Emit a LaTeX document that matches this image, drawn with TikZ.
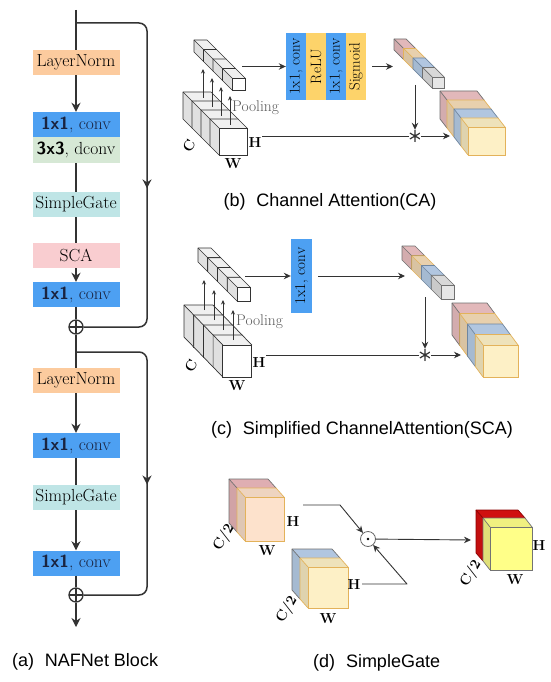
\documentclass[tikz,border=0pt]{standalone}
\usepackage{fontspec}
\newfontfamily\capfont{Liberation Sans}
\usetikzlibrary{arrows.meta,decorations.markings}
\definecolor{lnorange}{HTML}{FCCB9E}
\definecolor{convblue}{HTML}{4DA0F2}
\definecolor{dconvgreen}{HTML}{D6E8D5}
\definecolor{sgcyan}{HTML}{BFE5E6}
\definecolor{scapink}{HTML}{F9CDD0}
\definecolor{stripyellow}{HTML}{FDD36A}
\definecolor{linegray}{HTML}{333333}
\definecolor{navytxt}{HTML}{1A2440}
\definecolor{cpink}{HTML}{F0C4C6}
\definecolor{dpink}{HTML}{EDB9BD}
\definecolor{cbeige}{HTML}{F7DDB8}
\definecolor{cblue}{HTML}{BCD3EE}
\definecolor{cgray}{HTML}{E6E6E6}
\definecolor{ccream}{HTML}{FDF0C6}
\definecolor{cpeach}{HTML}{FDE2CC}
\definecolor{cred}{HTML}{DD1111}
\definecolor{cyellow}{HTML}{FFFF88}
\definecolor{edgeorange}{HTML}{E3B25A}
\definecolor{edgegray}{HTML}{707070}
\definecolor{edgeblue}{HTML}{6F86A0}
\newcommand\convtxt{\textcolor{navytxt}{\textsf{\bfseries 1x1}, conv}}
% x y w h dx dy fill edge
\newcommand\mycube[8]{%
  \fill[#7!88!black] (#1,#2) -- (#1-#5,#2-#6) -- (#1-#5,#2+#4-#6) -- (#1,#2+#4) -- cycle;
  \fill[#7!94!black] (#1,#2) -- (#1+#3,#2) -- (#1+#3-#5,#2-#6) -- (#1-#5,#2-#6) -- cycle;
  \fill[#7] (#1,#2) rectangle (#1+#3,#2+#4);
  \draw[#8, line width=0.7pt, line join=round] (#1,#2+#4) -- (#1-#5,#2+#4-#6) -- (#1-#5,#2-#6) -- (#1+#3-#5,#2-#6) -- (#1+#3,#2);
  \draw[#8, line width=0.7pt] (#1,#2) rectangle (#1+#3,#2+#4);
  \draw[#8, line width=0.7pt] (#1,#2) -- (#1-#5,#2-#6);
}
\tikzset{
  blk/.style={minimum width=87pt, minimum height=25pt, inner sep=0pt, font=\fontsize{17.5}{17.5}\selectfont},
  flow/.style={draw=linegray, line width=1.5pt},
  flowarr/.style={flow, -{Stealth[length=9pt,width=9pt]}},
  skiparrow/.style={postaction={decorate}, decoration={markings, mark=at position 0.54 with {\arrow[linegray]{Stealth[length=9pt,width=9pt]}}}},
  fine/.style={draw=linegray, line width=0.9pt},
  finearr/.style={fine, -{Stealth[length=7pt,width=6.5pt]}},
  poolarr/.style={fine, line width=0.8pt, -{Stealth[length=4.5pt,width=4pt]}},
  lab/.style={font=\fontsize{14.5}{14.5}\selectfont\bfseries, inner sep=0pt},
  strip/.style={rotate=90, minimum width=67pt, minimum height=20pt, inner sep=0pt, font=\fontsize{15}{15}\selectfont},
  pooltxt/.style={anchor=west, inner sep=0pt, text=black!65, font=\fontsize{15.5}{15.5}\selectfont},
  captxt/.style={inner sep=0pt, font=\capfont\fontsize{18}{18}\selectfont},
  oplus/.style={circle, draw=linegray, line width=1.3pt, minimum size=14pt, inner sep=0pt,
    path picture={\draw[linegray, line width=1.3pt] (path picture bounding box.north) -- (path picture bounding box.south) (path picture bounding box.west) -- (path picture bounding box.east);}},
  astr/.style={circle, minimum size=12pt, inner sep=0pt,
    path picture={\draw[linegray, line width=1.2pt]
      (path picture bounding box.center) ++(90:6pt) -- ++(270:12pt)
      (path picture bounding box.center) ++(30:6pt) -- ++(210:12pt)
      (path picture bounding box.center) ++(150:6pt) -- ++(330:12pt);}}
}
\begin{document}
\begin{tikzpicture}[x=1pt,y=-1pt]
\useasboundingbox[fill=white] (0,0) rectangle (550,682);

% ================= (a) NAFNet block =================
\node[blk, fill=lnorange] (ln1) at (76,62.5) {LayerNorm};
\node[blk, fill=convblue] (c1a) at (76,124.5) {\convtxt};
\node[blk, fill=dconvgreen, minimum height=26pt] (dc) at (76,150) {\textsf{\bfseries 3x3}, dconv};
\node[blk, fill=sgcyan] (sg1) at (76,204.5) {SimpleGate};
\node[blk, fill=scapink] (sca) at (76,255.5) {SCA};
\node[blk, fill=convblue] (c1b) at (76,294.5) {\convtxt};
\node[oplus] (p1) at (76,327) {};
\node[blk, fill=lnorange] (ln2) at (76,380.5) {LayerNorm};
\node[blk, fill=convblue] (c2a) at (76,445.5) {\convtxt};
\node[blk, fill=sgcyan] (sg2) at (76,497.5) {SimpleGate};
\node[blk, fill=convblue] (c2b) at (76,563) {\convtxt};
\node[oplus] (p2) at (76,595) {};
\coordinate (top) at (76,10);
\coordinate (br1) at (76,23);
\coordinate (sk1a) at (147,23);
\coordinate (sk1b) at (147,327);
\coordinate (br2) at (76,352);
\coordinate (sk2a) at (147,352);
\coordinate (sk2b) at (147,595);
\coordinate (bot) at (76,627);

\draw[flow] (top) -- (ln1);
\draw[flowarr] (ln1) -- (c1a);
\draw[flow] (dc) -- (sg1);
\draw[flow] (sg1) -- (sca);
\draw[flowarr] (sca) -- (c1b);
\draw[flow] (c1b) -- (p1);
\draw[flow, rounded corners=8pt, skiparrow] (br1) -- (sk1a) -- (sk1b) -- (p1);
\draw[flow] (p1) -- (ln2);
\draw[flowarr] (ln2) -- (c2a);
\draw[flow] (c2a) -- (sg2);
\draw[flowarr] (sg2) -- (c2b);
\draw[flow] (c2b) -- (p2);
\draw[flowarr] (p2) -- (bot);
\draw[flow, rounded corners=8pt, skiparrow] (br2) -- (sk2a) -- (sk2b) -- (p2);

\node[captxt, anchor=west] (capa) at (12,662) {(a)\hspace{0.6em}NAFNet Block};

% ================= (b) Channel attention =================
\mycube{192}{101}{28}{27}{9}{9}{white}{linegray}
\mycube{201}{110}{28}{27}{9}{9}{white}{linegray}
\mycube{210}{119}{28}{27}{9}{9}{white}{linegray}
\mycube{219}{128}{28}{27}{9}{9}{white}{linegray}
\mycube{203.5}{49.5}{13}{12}{9.5}{9.5}{white}{linegray}
\mycube{213}{59}{13}{12}{9.5}{9.5}{white}{linegray}
\mycube{222.5}{68.5}{13}{12}{9.5}{9.5}{white}{linegray}
\mycube{232}{78}{13}{12}{9.5}{9.5}{white}{linegray}
\draw[poolarr] (203,98) -- (203,69);
\draw[poolarr] (212,107) -- (212,78);
\draw[poolarr] (221,116) -- (221,87);
\draw[poolarr] (230,125) -- (230,96);
\node[pooltxt] (poolb) at (232,108) {Pooling};
\node[lab, rotate=60] (cb) at (189,146) {C};
\node[lab] (hb) at (255,143) {H};
\node[lab] (wb) at (233,164) {W};

\node[strip, fill=convblue] (s1) at (296,66.5) {1x1, conv};
\node[strip, fill=stripyellow] (s2) at (316,66.5) {ReLU};
\node[strip, fill=convblue] (s3) at (336,66.5) {1x1, conv};
\node[strip, fill=stripyellow] (s4) at (356,66.5) {Sigmoid};
\coordinate (bi) at (242,66.5);
\draw[finearr] (bi) -- (s1);
\coordinate (bo1) at (372,66.5);
\coordinate (bo2) at (393,66.5);
\draw[finearr] (bo1) -- (bo2);

\mycube{403.5}{48.5}{12}{11}{9.5}{9.5}{cpink}{edgegray}
\mycube{413}{58}{12}{11}{9.5}{9.5}{cbeige}{edgeorange}
\mycube{422.5}{67.5}{12}{11}{9.5}{9.5}{cblue}{edgeblue}
\mycube{432}{77}{12}{11}{9.5}{9.5}{cgray}{edgegray}
\coordinate (dn1) at (415,85);
\node[astr] (ast1) at (415,136) {};
\draw[finearr] (dn1) -- (ast1);
\coordinate (hl1) at (262,136);
\draw[fine] (hl1) -- (ast1);
\coordinate (ob1) at (450,136);
\draw[finearr] (ast1) -- (ob1);

\mycube{447}{100}{37}{28}{7}{9}{cpink}{edgegray}
\mycube{454}{109}{37}{28}{7}{9}{cbeige}{edgeorange}
\mycube{461}{118}{37}{28}{7}{9}{cblue}{edgeblue}
\mycube{468}{127}{37}{28}{7}{9}{ccream}{edgeorange}

\node[captxt] (capb) at (330,202) {(b)\hspace{0.6em}Channel Attention(CA)};

% ================= (c) Simplified channel attention =================
\mycube{193.7}{315}{29}{32}{9.7}{10}{white}{linegray}
\mycube{203.4}{325}{29}{32}{9.7}{10}{white}{linegray}
\mycube{213.1}{335}{29}{32}{9.7}{10}{white}{linegray}
\mycube{222.8}{345}{29}{32}{9.7}{10}{white}{linegray}
\mycube{207.75}{257.75}{13}{14}{9.75}{9.75}{white}{linegray}
\mycube{217.5}{267.5}{13}{14}{9.75}{9.75}{white}{linegray}
\mycube{227.25}{277.25}{13}{14}{9.75}{9.75}{white}{linegray}
\mycube{237}{287}{13}{14}{9.75}{9.75}{white}{linegray}
\draw[poolarr] (204,310) -- (204,280);
\draw[poolarr] (214,320) -- (214,290);
\draw[poolarr] (223,330) -- (223,300);
\draw[poolarr] (233,340) -- (233,310);
\node[pooltxt] (poolc) at (236,322) {Pooling};
\node[lab, rotate=60] (cc) at (191,366) {C};
\node[lab] (hc) at (259,363) {H};
\node[lab] (wc) at (237,386) {W};

\node[strip, fill=convblue, minimum width=74pt, minimum height=21pt] (s5) at (301.5,276) {1x1, conv};
\coordinate (ci) at (245,276);
\draw[finearr] (ci) -- (s5);
\coordinate (co1) at (318,276);
\coordinate (co2) at (405,276);
\draw[finearr] (co1) -- (co2);

\mycube{411.75}{255.75}{13}{14}{9.75}{9.75}{cpink}{edgegray}
\mycube{421.5}{265.5}{13}{14}{9.75}{9.75}{cbeige}{edgeorange}
\mycube{431.25}{275.25}{13}{14}{9.75}{9.75}{cblue}{edgeblue}
\mycube{441}{285}{13}{14}{9.75}{9.75}{cgray}{edgegray}
\coordinate (dn2) at (425,297);
\node[astr] (ast2) at (425,355) {};
\draw[finearr] (dn2) -- (ast2);
\coordinate (hl2) at (266,355);
\draw[fine] (hl2) -- (ast2);
\coordinate (oc1) at (461,355);
\draw[finearr] (ast2) -- (oc1);

\mycube{459.75}{313.5}{35}{32}{7.75}{10.5}{cpink}{edgegray}
\mycube{467.5}{324}{35}{32}{7.75}{10.5}{cbeige}{edgeorange}
\mycube{475.25}{334.5}{35}{32}{7.75}{10.5}{cblue}{edgeblue}
\mycube{483}{345}{35}{32}{7.75}{10.5}{ccream}{edgeorange}

\node[captxt] (capc) at (362,430) {(c)\hspace{0.6em}Simplified ChannelAttention(SCA)};

% ================= (d) SimpleGate =================
\mycube{237}{488}{39}{44}{8}{9}{dpink}{edgegray}
\mycube{245}{497}{39}{44}{8}{9}{cpeach}{edgeorange}
\mycube{300}{558}{40}{41}{8}{9}{cblue}{edgegray}
\mycube{308}{567}{40}{41}{8}{9}{ccream}{edgeorange}
\mycube{483}{518}{42}{43}{7}{8}{cred}{red!55!black}
\mycube{490}{527}{42}{43}{7}{9}{cyellow}{black!55}

\node[lab] (hd1) at (293,522) {H};
\node[lab] (wd1) at (267,551) {W};
\node[lab, rotate=60] (cd1) at (224,538) {C/2};
\node[lab] (hd2) at (354,585) {H};
\node[lab] (wd2) at (328,619) {W};
\node[lab, rotate=60] (cd2) at (287,610) {C/2};
\node[lab] (hd3) at (539,546) {H};
\node[lab] (wd3) at (515,580) {W};
\node[lab, rotate=60] (cd3) at (471,574) {C/2};

\node[circle, draw=black!60, line width=0.8pt, minimum size=15pt, inner sep=0pt] (od) at (368,539) {};
\fill[black] (od.center) circle (1.4pt);
\coordinate (d1a) at (303,505);
\coordinate (d1b) at (340,505);
\draw[finearr, line join=round] (d1a) -- (d1b) -- (od);
\coordinate (d2a) at (362,584);
\coordinate (d2b) at (407,584);
\draw[finearr, line join=round] (d2a) -- (d2b) -- (od);
\coordinate (d3) at (471,540);
\draw[finearr] (od) -- (d3);

\node[captxt, anchor=west] (capd) at (313,663) {(d)\hspace{0.6em}SimpleGate};
\end{tikzpicture}
\end{document}
